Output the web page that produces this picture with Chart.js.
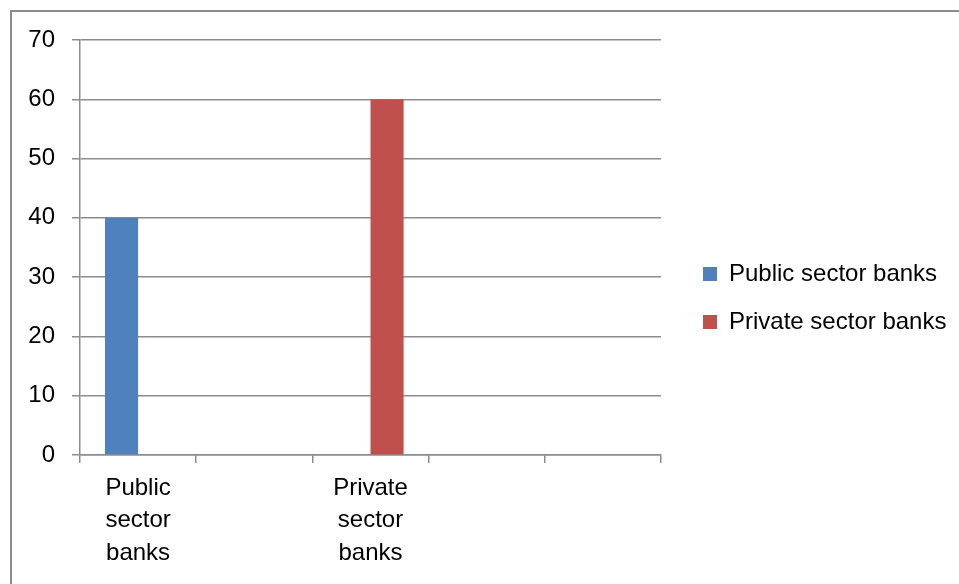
<!DOCTYPE html>
<html>
<head>
<meta charset="utf-8">
<script src="https://cdn.jsdelivr.net/npm/chart.js@4"></script>
<style>
  html, body { margin: 0; padding: 0; background: #fff; overflow: hidden; }
  #frame { position: absolute; left: 10px; top: 10px; width: 1000px; height: 700px; border: 2px solid #8c8c8c; box-sizing: border-box; }
  #wrap { position: absolute; left: 0; top: 0; width: 959px; height: 584px; }
</style>
</head>
<body>
<div id="frame"></div>
<div id="wrap"><canvas id="bankChart"></canvas></div>
<script>
// categories (Excel left empty rows in the range)
const categories = [['Public', 'sector', 'banks'], '', ['Private', 'sector', 'banks'], '', ''];
const publicValues = [40, null, null, null, null];
const privateValues = [null, null, 60, null, null];
const yTicks = [0, 10, 20, 30, 40, 50, 60, 70];

const gridColor = '#8c8c8c';
const fontFamily = "'Liberation Sans', Arial, sans-serif";

// fix legend box so plot area ends where the reference does
const legendPlacement = {
    id: 'legendPlacement',
    afterInit(chart) {
        const lg = chart.legend;
        const origFit = lg.fit.bind(lg);
        lg.fit = function() {
            origFit();
            this.width = 298;
        };
    },
    afterLayout(chart) {
        const lg = chart.legend;
        lg.left = 679;
        lg.right = 959;
        lg.top = 238;
        lg.bottom = 584;
    }
};

const ctx = document.getElementById('bankChart').getContext('2d');
const bankChart = new Chart(ctx, {
    type: 'bar',
    data: {
        labels: categories,
        datasets: [
            {
                label: 'Public sector banks',
                data: publicValues,
                backgroundColor: '#4f81bd',
                borderWidth: 0
            },
            {
                label: 'Private sector banks',
                data: privateValues,
                backgroundColor: '#c0504d',
                borderWidth: 0
            }
        ]
    },
    options: {
        responsive: true,
        maintainAspectRatio: false,
        animation: false,
        layout: {
            padding: { left: 0, top: 40, right: 0, bottom: 0 }
        },
        datasets: {
            bar: {
                categoryPercentage: 0.57,
                barPercentage: 1
            }
        },
        scales: {
            x: {
                offset: true,
                grid: {
                    offset: true,
                    drawOnChartArea: false,
                    drawTicks: true,
                    tickLength: 8,
                    color: gridColor,
                    lineWidth: 1.5
                },
                border: { color: gridColor, width: 1.5 },
                ticks: {
                    color: '#000',
                    padding: 9,
                    maxRotation: 0,
                    autoSkip: false,
                    font: { family: fontFamily, size: 24, lineHeight: 1.35 }
                },
                afterFit: function(scale) {
                    scale.height = 129;
                }
            },
            y: {
                min: 0,
                max: 70,
                afterBuildTicks: function(scale) {
                    scale.ticks = yTicks.map(v => ({ value: v }));
                },
                grid: {
                    color: gridColor,
                    lineWidth: 1.5,
                    tickLength: 8
                },
                border: { color: gridColor, width: 1.5 },
                ticks: {
                    color: '#000',
                    padding: 17,
                    font: { family: fontFamily, size: 24 }
                },
                afterFit: function(scale) {
                    scale.width = 80;
                }
            }
        },
        plugins: {
            legend: {
                position: 'right',
                align: 'start',
                labels: {
                    boxWidth: 14,
                    boxHeight: 14,
                    padding: 24,
                    color: '#000',
                    font: { family: fontFamily, size: 24 }
                }
            },
            tooltip: { enabled: false }
        }
    },
    plugins: [legendPlacement]
});
</script>
</body>
</html>
